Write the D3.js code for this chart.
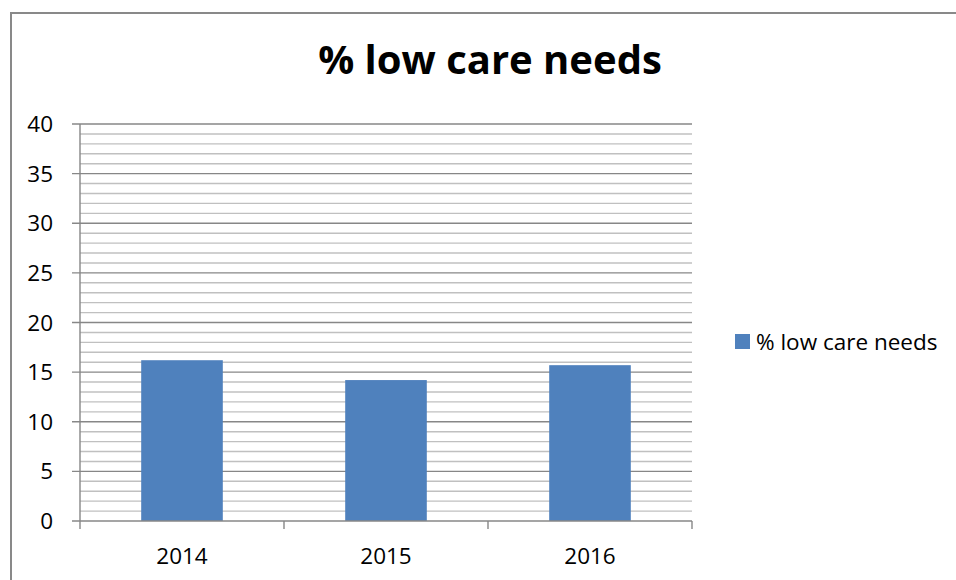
<!DOCTYPE html>
<html>
<head>
<meta charset="utf-8">
<script src="https://cdn.jsdelivr.net/npm/d3@7"></script>
<style>
  body { margin: 0; background: #fff; }
  svg { display: block; }
</style>
</head>
<body>
<svg id="chart"></svg>
<script>
// data
const years = ["2014", "2015", "2016"];
const lowCare = [16.2, 14.2, 15.7];
const yTicks = [0, 5, 10, 15, 20, 25, 30, 35, 40];
const seriesName = "% low care needs";

const width = 956, height = 580;
const font = "'Open Sans', 'Liberation Sans', sans-serif";
const labelSize = "22.5px";

const svg = d3.select("#chart").attr("width", width).attr("height", height);

// outer frame (only top and left visible, the rest is cut off)
svg.append("rect")
    .attr("x", 11).attr("y", 13)
    .attr("width", 1000).attr("height", 1000)
    .attr("fill", "none")
    .attr("stroke", "#898989")
    .attr("stroke-width", 2);

const plot = { left: 80, right: 692, top: 124, bottom: 521 };

const x = d3.scaleBand().domain(years).range([plot.left, plot.right]).paddingInner(0).paddingOuter(0);
const y = d3.scaleLinear().domain([0, 40]).range([plot.bottom, plot.top]);

// minor gridlines every 1
const minor = d3.range(1, 40).filter(v => v % 5 !== 0);
svg.append("g")
    .selectAll("line")
    .data(minor)
    .enter()
    .append("line")
    .attr("x1", plot.left).attr("x2", plot.right)
    .attr("y1", d => y(d)).attr("y2", d => y(d))
    .attr("stroke", "#c0c0c0")
    .attr("stroke-width", 1.4);

// major gridlines
svg.append("g")
    .selectAll("line")
    .data(yTicks.filter(v => v > 0))
    .enter()
    .append("line")
    .attr("x1", plot.left - 8).attr("x2", plot.right)
    .attr("y1", d => y(d)).attr("y2", d => y(d))
    .attr("stroke", "#878787")
    .attr("stroke-width", 1.4);

// bars
const barW = x.bandwidth() / 2.5;
svg.append("g")
    .selectAll("rect")
    .data(lowCare)
    .enter()
    .append("rect")
    .attr("x", (d, i) => x(years[i]) + (x.bandwidth() - barW) / 2)
    .attr("y", d => y(d))
    .attr("width", barW)
    .attr("height", d => y(0) - y(d))
    .attr("fill", "#4f81bd");

// axes
svg.append("line")
    .attr("x1", plot.left).attr("x2", plot.left)
    .attr("y1", plot.top).attr("y2", plot.bottom + 8)
    .attr("stroke", "#878787").attr("stroke-width", 1.4);
svg.append("line")
    .attr("x1", plot.left - 8).attr("x2", plot.right)
    .attr("y1", plot.bottom).attr("y2", plot.bottom)
    .attr("stroke", "#878787").attr("stroke-width", 1.4);

// category boundary ticks
const bounds = years.map(d => x(d)).concat([plot.right]);
svg.append("g")
    .selectAll("line")
    .data(bounds.slice(1))
    .enter()
    .append("line")
    .attr("x1", d => d).attr("x2", d => d)
    .attr("y1", plot.bottom).attr("y2", plot.bottom + 8)
    .attr("stroke", "#878787").attr("stroke-width", 1.4);

// y labels
svg.append("g")
    .selectAll("text")
    .data(yTicks)
    .enter()
    .append("text")
    .attr("x", 53)
    .attr("y", d => y(d))
    .attr("dy", "0.36em")
    .attr("text-anchor", "end")
    .style("font-family", font)
    .style("font-size", labelSize)
    .style("fill", "#000")
    .text(d => d);

// x labels
svg.append("g")
    .selectAll("text")
    .data(years)
    .enter()
    .append("text")
    .attr("x", d => x(d) + x.bandwidth() / 2)
    .attr("y", 564)
    .attr("text-anchor", "middle")
    .style("font-family", font)
    .style("font-size", labelSize)
    .style("fill", "#000")
    .text(d => d);

// title
svg.append("text")
    .attr("x", 490)
    .attr("y", 74)
    .attr("text-anchor", "middle")
    .style("font-family", font)
    .style("font-weight", "bold")
    .style("font-size", "40px")
    .style("fill", "#000")
    .text(seriesName);

// legend
svg.append("rect")
    .attr("x", 735).attr("y", 334)
    .attr("width", 15).attr("height", 15)
    .attr("fill", "#4f81bd");
svg.append("text")
    .attr("x", 756)
    .attr("y", 341.5)
    .attr("dy", "0.36em")
    .style("font-family", font)
    .style("font-size", labelSize)
    .style("fill", "#000")
    .text(seriesName);
</script>
</body>
</html>
